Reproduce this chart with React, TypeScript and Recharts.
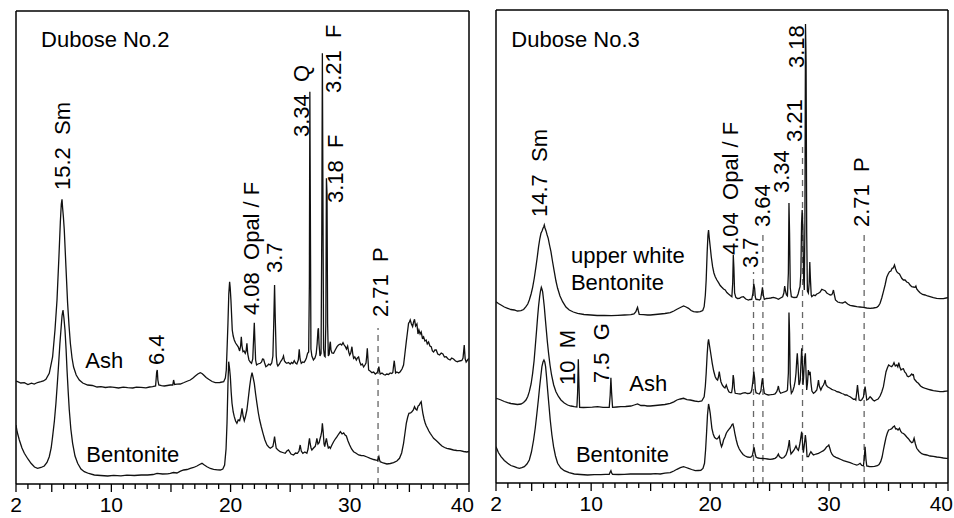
import React from "react";
import { LineChart, Line, XAxis, YAxis, ReferenceLine, ReferenceDot } from "recharts";

type Pt = [number, number];

// 2-theta axis
const X_TICKS = Array.from({ length: 39 }, (_, i) => i + 2);
const X_TICK_LABELS = [2, 10, 20, 30, 40];

// ---- Dubose No.2 (intensity, arbitrary units) ----
const ASH_2: Pt[] = [
  [2.0, 103], [2.14, 102.3], [2.4, 101], [2.7, 101.3], [3.0, 99.5], [3.3, 100.8], [3.53, 100], [3.8, 101.5], [4.09, 102.3], [4.3, 103],
  [4.51, 104.7], [4.79, 110.7], [5.07, 127], [5.27, 154], [5.44, 184], [5.6, 227], [5.72, 262], [5.8, 280], [5.86, 284.7], [5.91, 276],
  [5.97, 268], [6.05, 254], [6.19, 217], [6.33, 180.7], [6.45, 158], [6.56, 140.7], [6.7, 126], [6.83, 117], [7.05, 109], [7.31, 104],
  [7.6, 101], [8.01, 99], [8.4, 98.5], [8.8, 97], [9.13, 97.3], [9.5, 96.5], [9.9, 97.2], [10.25, 96.7], [10.6, 96], [11.0, 96.8],
  [11.37, 96.3], [11.8, 96], [12.1, 96.9], [12.48, 96.7], [12.9, 96.2], [13.2, 97], [13.46, 97.3], [13.71, 98], [13.8, 112], [13.85, 114],
  [13.9, 104], [13.98, 99], [14.2, 98.3], [14.44, 98], [14.7, 98.5], [14.94, 99], [15.15, 99], [15.22, 104], [15.3, 99.5], [15.5, 99.8],
  [15.78, 100], [16.1, 101.5], [16.4, 103], [16.62, 104], [16.85, 106], [17.04, 108], [17.25, 110], [17.46, 111.3], [17.6, 110.5], [17.74, 109],
  [17.95, 106.5], [18.16, 104.7], [18.45, 102.5], [18.72, 101.3], [19.1, 101.5], [19.42, 102.3], [19.56, 106], [19.64, 114], [19.72, 140], [19.78, 160.7],
  [19.85, 190], [19.92, 202.3], [19.97, 196], [20.03, 184], [20.14, 154], [20.22, 148], [20.31, 144], [20.42, 141], [20.53, 139], [20.65, 137],
  [20.76, 133], [20.84, 138], [20.9, 147.3], [20.96, 138], [21.04, 132.3], [21.13, 133], [21.23, 130.7], [21.3, 133], [21.37, 140.7], [21.44, 130],
  [21.54, 124], [21.65, 122], [21.76, 120.7], [21.86, 125], [21.93, 145], [21.99, 161.3], [22.05, 140], [22.1, 124], [22.18, 119], [22.3, 120],
  [22.49, 120.7], [22.6, 122], [22.68, 125], [22.77, 124.7], [22.86, 121], [22.96, 117.3], [23.1, 118.5], [23.2, 120], [23.33, 119], [23.45, 121],
  [23.55, 128], [23.62, 160], [23.69, 199], [23.75, 165], [23.83, 128], [23.9, 120], [23.97, 118], [24.1, 120], [24.2, 122.5], [24.3, 124],
  [24.38, 126], [24.44, 128], [24.52, 123], [24.62, 121.5], [24.72, 120.7], [24.85, 121.5], [25.0, 120], [25.12, 121.5], [25.22, 120.5], [25.34, 123.3],
  [25.45, 121], [25.56, 120], [25.68, 124], [25.76, 134.7], [25.83, 125], [25.93, 120.7], [26.05, 122], [26.16, 121.5], [26.26, 123.3], [26.36, 126],
  [26.46, 130.7], [26.55, 132], [26.61, 200], [26.65, 392.3], [26.69, 280], [26.74, 135], [26.82, 128], [26.95, 124], [27.08, 126], [27.18, 130],
  [27.26, 140], [27.33, 154], [27.37, 155.7], [27.42, 140], [27.5, 128], [27.59, 130.7], [27.65, 250], [27.7, 430.7], [27.75, 280], [27.8, 135],
  [27.87, 128], [27.93, 127.3], [27.99, 160], [28.04, 305.7], [28.09, 290], [28.14, 160], [28.2, 128], [28.28, 130], [28.33, 140], [28.37, 142.3],
  [28.42, 134], [28.5, 131], [28.64, 130.7], [28.78, 134], [28.93, 137.3], [29.05, 139], [29.21, 140], [29.32, 139], [29.43, 141.3], [29.53, 139],
  [29.63, 137.3], [29.72, 135], [29.82, 138], [29.91, 132], [29.99, 129], [30.08, 131], [30.18, 137.3], [30.25, 130], [30.32, 125.7], [30.42, 127],
  [30.55, 124], [30.64, 126], [30.74, 127], [30.84, 122], [30.94, 119], [31.05, 120], [31.16, 117], [31.27, 119], [31.36, 121], [31.42, 128],
  [31.47, 135.7], [31.52, 126], [31.58, 114], [31.7, 113], [31.86, 111.3], [32.0, 112], [32.14, 110], [32.25, 111], [32.33, 112], [32.4, 115],
  [32.44, 117.3], [32.49, 113], [32.55, 110], [32.7, 111], [32.85, 109.5], [32.97, 109], [33.1, 110], [33.25, 109.5], [33.39, 111], [33.52, 110.5],
  [33.61, 111.5], [33.67, 118], [33.73, 123.3], [33.79, 117], [33.84, 111], [33.95, 112], [34.1, 111], [34.23, 112.3], [34.38, 115], [34.51, 119],
  [34.62, 130], [34.74, 142.3], [34.84, 152], [34.93, 160.7], [35.0, 162], [35.07, 164], [35.17, 160], [35.27, 157.3], [35.35, 162], [35.43, 164.7],
  [35.52, 158], [35.63, 160], [35.72, 150], [35.8, 154], [35.9, 150], [35.99, 152], [36.09, 146], [36.19, 147.3], [36.3, 143], [36.41, 144],
  [36.5, 140], [36.61, 142], [36.72, 138], [36.83, 137.3], [36.93, 133], [37.03, 132], [37.14, 134], [37.25, 134], [37.38, 130], [37.53, 129],
  [37.67, 131], [37.81, 130], [37.94, 127], [38.08, 127.3], [38.25, 125], [38.42, 124], [38.55, 126], [38.7, 125], [38.87, 123], [39.03, 122.3],
  [39.2, 123], [39.4, 123.5], [39.5, 126], [39.6, 139], [39.68, 125], [39.76, 122], [39.88, 124], [39.98, 125.7],
];

const BENT_2: Pt[] = [
  [2.0, 59], [2.1, 52], [2.28, 44], [2.5, 36], [2.7, 30.7], [3.0, 25], [3.26, 20.7], [3.55, 17], [3.81, 15.7], [4.1, 16.5],
  [4.37, 18], [4.6, 21.5], [4.79, 27.3], [4.95, 36], [5.07, 47.3], [5.22, 63], [5.35, 80.7], [5.47, 101], [5.58, 120.7], [5.68, 140],
  [5.77, 154], [5.86, 168], [5.94, 174], [6.02, 166], [6.11, 154], [6.2, 135], [6.28, 114], [6.38, 92], [6.47, 74], [6.6, 55],
  [6.75, 40.7], [6.95, 28], [7.17, 20.7], [7.45, 15], [7.73, 12.3], [8.1, 10.5], [8.57, 9], [9.1, 8.5], [9.69, 8], [10.2, 8.6],
  [10.8, 8.2], [11.3, 8.8], [11.92, 8.5], [12.5, 9], [13.04, 9], [13.5, 9.5], [13.83, 10.7], [14.3, 10], [14.72, 10.2], [14.94, 10.7],
  [15.2, 11.5], [15.5, 11], [15.8, 12.8], [16.06, 14], [16.35, 14.5], [16.62, 15.7], [16.9, 16.5], [17.18, 18], [17.4, 19.5], [17.6, 20.7],
  [17.8, 19], [18.02, 17.3], [18.3, 15.5], [18.58, 14.7], [18.9, 14.2], [19.14, 14], [19.35, 15], [19.5, 19], [19.62, 35], [19.7, 60.7],
  [19.78, 100], [19.84, 122.3], [19.91, 116], [19.98, 107.3], [20.05, 92], [20.12, 80.7], [20.22, 72], [20.31, 67.3], [20.42, 63], [20.53, 60.7],
  [20.64, 64], [20.76, 63.3], [20.86, 68], [20.96, 75.7], [21.05, 68], [21.15, 63.3], [21.26, 68], [21.37, 74], [21.48, 85], [21.6, 97.3],
  [21.7, 106], [21.8, 111.3], [21.9, 106], [21.99, 100.7], [22.1, 90], [22.21, 80.7], [22.33, 71], [22.44, 64], [22.58, 57], [22.72, 50.7],
  [22.88, 44], [23.05, 39], [23.2, 37], [23.33, 35.7], [23.48, 37], [23.55, 37.7], [23.62, 42], [23.69, 47.3], [23.75, 42], [23.83, 35.7],
  [23.98, 34], [24.16, 32.3], [24.37, 31.5], [24.58, 30.7], [24.72, 33], [24.86, 34], [25.07, 30], [25.28, 29], [25.45, 31], [25.61, 30.7],
  [25.74, 33], [25.84, 39], [25.93, 33], [26.06, 30.7], [26.23, 32], [26.4, 30.7], [26.5, 35], [26.57, 42], [26.62, 45.7], [26.68, 40],
  [26.75, 36], [26.82, 34], [26.96, 36], [27.1, 37.7], [27.17, 41], [27.24, 45.7], [27.33, 40], [27.43, 41.3], [27.5, 45], [27.57, 48],
  [27.64, 52], [27.7, 60.7], [27.77, 52], [27.84, 40], [27.9, 37.3], [27.97, 42], [28.04, 45.7], [28.12, 40], [28.2, 36], [28.3, 37],
  [28.37, 35.7], [28.5, 39], [28.64, 42.3], [28.78, 45], [28.93, 47.3], [29.07, 50], [29.21, 52.3], [29.35, 50], [29.49, 51], [29.6, 49],
  [29.71, 48], [29.85, 43], [29.99, 39], [30.15, 35], [30.32, 32.3], [30.5, 31], [30.74, 29], [30.95, 28.5], [31.16, 28.3], [31.45, 27],
  [31.72, 25.7], [32.0, 24.5], [32.2, 24], [32.33, 23.3], [32.4, 26], [32.44, 27.3], [32.5, 24], [32.55, 22.3], [32.8, 21], [33.11, 20],
  [33.4, 20.5], [33.67, 21.3], [33.95, 23], [34.17, 25.7], [34.35, 31], [34.51, 40.7], [34.63, 51], [34.74, 60.7], [34.86, 67], [34.96, 70.7],
  [35.1, 71], [35.21, 72.3], [35.33, 74], [35.43, 77.3], [35.53, 75], [35.63, 74], [35.73, 78], [35.83, 79], [35.91, 81], [35.99, 82.3],
  [36.06, 76], [36.13, 70.7], [36.23, 65], [36.33, 60.7], [36.42, 58], [36.52, 55.7], [36.63, 53], [36.75, 50.7], [36.9, 48], [37.03, 45.7],
  [37.2, 44], [37.36, 42.3], [37.55, 40], [37.73, 38], [37.95, 36.5], [38.14, 35.7], [38.4, 35], [38.7, 34], [38.98, 33.5], [39.26, 33.3],
  [39.55, 32.5], [39.82, 32], [40.0, 32.5],
];

// ---- Dubose No.3 ----
const UPPER_3: Pt[] = [
  [2.0, 181.3], [2.2, 179.5], [2.42, 178], [2.7, 176], [2.98, 174.7], [3.25, 173.5], [3.54, 173], [3.8, 172], [4.1, 172.3], [4.32, 173.5],
  [4.52, 176.3], [4.67, 179], [4.8, 183], [4.95, 189], [5.08, 195.7], [5.22, 205], [5.36, 216.3], [5.47, 226], [5.58, 236.3], [5.68, 244],
  [5.78, 249.7], [5.87, 252], [5.95, 254.7], [6.01, 256], [6.06, 258], [6.12, 255], [6.2, 252.3], [6.3, 248], [6.39, 244.7], [6.5, 238],
  [6.62, 231.3], [6.76, 221], [6.9, 211.3], [7.04, 202], [7.18, 194.7], [7.38, 187], [7.6, 181.3], [7.88, 176], [8.16, 173], [8.5, 171],
  [8.86, 169.7], [9.4, 168.5], [9.98, 168], [10.5, 167.5], [11.1, 167.7], [11.7, 167.3], [12.22, 167.7], [12.8, 168], [13.34, 168.3], [13.6, 169],
  [13.76, 171.3], [13.84, 174], [13.9, 175.7], [13.97, 172], [14.04, 168.7], [14.4, 168.3], [14.74, 168], [14.97, 168], [15.4, 168.5], [15.81, 169],
  [16.2, 169.5], [16.65, 170.3], [16.95, 172], [17.21, 173.7], [17.5, 175.5], [17.77, 177], [17.98, 176], [18.19, 174.7], [18.4, 172.5], [18.61, 171.3],
  [18.9, 171], [19.17, 171.3], [19.38, 172.5], [19.5, 176.3], [19.6, 188], [19.67, 203], [19.75, 230], [19.82, 248], [19.87, 253], [19.93, 245],
  [20.01, 236.3], [20.1, 226], [20.21, 216.3], [20.32, 210], [20.43, 206.3], [20.57, 203], [20.71, 200.3], [20.85, 197.5], [20.99, 195.7], [21.13, 194],
  [21.27, 193], [21.41, 190.5], [21.55, 189], [21.7, 187.5], [21.83, 186.3], [21.9, 200], [21.95, 228], [22.0, 215], [22.06, 190], [22.16, 185.7],
  [22.3, 184.5], [22.47, 184.7], [22.63, 186], [22.8, 186.3], [23.0, 184], [23.22, 183], [23.36, 183.5], [23.5, 183.7], [23.6, 190], [23.67, 199],
  [23.74, 195], [23.8, 186], [23.86, 183.7], [24.0, 183.5], [24.14, 183], [24.25, 184], [24.33, 190], [24.4, 195.7], [24.47, 188], [24.56, 183.7],
  [24.73, 184.5], [24.9, 184.7], [25.1, 185], [25.32, 185.7], [25.53, 185], [25.74, 183.7], [25.92, 185], [26.1, 186.3], [26.2, 190], [26.27, 197],
  [26.34, 192], [26.42, 188], [26.5, 187], [26.58, 210], [26.63, 280], [26.68, 250], [26.74, 195], [26.83, 186.3], [27.05, 185.5], [27.28, 185.7],
  [27.4, 189], [27.5, 194], [27.56, 196.3], [27.63, 210], [27.69, 260], [27.74, 273], [27.8, 255], [27.86, 205], [27.92, 193], [27.97, 260],
  [28.02, 459], [28.07, 420], [28.12, 250], [28.18, 192], [28.26, 190], [28.33, 200], [28.38, 221], [28.43, 205], [28.5, 188], [28.55, 186.3],
  [28.7, 188], [28.83, 187.3], [28.97, 189], [29.11, 189.7], [29.25, 191], [29.39, 193.7], [29.53, 193], [29.67, 192.3], [29.81, 190], [29.95, 189],
  [30.1, 188], [30.23, 188.3], [30.3, 190], [30.37, 193], [30.45, 188], [30.54, 183], [30.73, 181], [30.93, 180.3], [31.14, 180], [31.35, 181.3],
  [31.56, 179], [31.77, 177.7], [32.05, 177], [32.33, 176.3], [32.6, 176], [32.89, 175.7], [33.17, 175], [33.45, 174.7], [33.73, 175], [34.01, 175.7],
  [34.15, 177], [34.29, 179.7], [34.43, 185], [34.57, 191.3], [34.71, 198], [34.85, 205.7], [34.97, 209], [35.08, 211.3], [35.2, 212], [35.3, 214.7],
  [35.4, 215], [35.5, 218], [35.6, 214], [35.69, 211.3], [35.8, 210], [35.92, 209], [36.01, 207], [36.11, 204.7], [36.25, 203], [36.39, 203],
  [36.53, 201], [36.67, 200.3], [36.81, 198], [36.95, 196.3], [37.09, 196], [37.23, 195.7], [37.3, 197], [37.37, 194], [37.51, 192], [37.65, 190.3],
  [37.86, 188.5], [38.07, 188], [38.28, 187], [38.49, 186.3], [38.77, 185.3], [39.05, 184.7], [39.33, 184.3], [39.61, 184.3], [39.85, 185], [40.0, 185.3],
];

const ASH_3: Pt[] = [
  [2.0, 84.7], [2.2, 84], [2.42, 83], [2.7, 81.5], [2.98, 80.3], [3.25, 79.5], [3.54, 79], [3.8, 78.5], [4.1, 79], [4.32, 80.5],
  [4.52, 83], [4.67, 86.5], [4.8, 91.3], [4.95, 99], [5.08, 109.7], [5.2, 122], [5.3, 136.3], [5.4, 151], [5.5, 166.3], [5.58, 177],
  [5.67, 186.3], [5.74, 192], [5.81, 195.7], [5.86, 194], [5.92, 191.3], [5.99, 184], [6.06, 176.3], [6.14, 165], [6.23, 153], [6.32, 141],
  [6.42, 129.7], [6.54, 118], [6.67, 108], [6.85, 98], [7.04, 91.3], [7.25, 86.5], [7.46, 83], [7.74, 80], [8.02, 78], [8.3, 77],
  [8.58, 76.3], [8.8, 76], [8.86, 90], [8.92, 123.7], [8.97, 100], [9.03, 75.7], [9.35, 75.5], [9.7, 75.7], [10.1, 75.8], [10.54, 76.3],
  [11.0, 75.6], [11.52, 75.7], [11.6, 88], [11.66, 105.3], [11.72, 90], [11.8, 75.7], [12.15, 76], [12.5, 76.3], [12.9, 76.5], [13.34, 77],
  [13.62, 78], [13.9, 79], [14.18, 77.5], [14.46, 77.7], [14.7, 77], [14.97, 77], [15.4, 77.5], [15.81, 78], [16.2, 78.5], [16.65, 79.7],
  [16.95, 81.2], [17.21, 83], [17.5, 84], [17.77, 84.7], [18.05, 83.3], [18.33, 83], [18.7, 82], [19.03, 81.3], [19.3, 82], [19.5, 86.3],
  [19.6, 97], [19.67, 109.7], [19.75, 128], [19.82, 140], [19.87, 143.7], [19.93, 139], [20.01, 133], [20.1, 126], [20.18, 119.7], [20.3, 112],
  [20.43, 106.3], [20.53, 104], [20.63, 103], [20.7, 106], [20.77, 111.3], [20.84, 106], [20.91, 101.3], [21.02, 98], [21.13, 96.3], [21.25, 95],
  [21.36, 98], [21.47, 94], [21.58, 91.3], [21.7, 90.3], [21.81, 90.3], [21.88, 96], [21.94, 108], [21.99, 104], [22.05, 94], [22.11, 89.7],
  [22.32, 89.3], [22.53, 89], [22.74, 89.8], [22.95, 90.3], [23.13, 89.5], [23.31, 89.7], [23.42, 90.5], [23.5, 93], [23.6, 102], [23.67, 111.3],
  [23.74, 105], [23.8, 94], [23.86, 90.3], [24.0, 89.5], [24.14, 89], [24.27, 92], [24.34, 100], [24.4, 104.7], [24.47, 97], [24.56, 89.7],
  [24.73, 88.5], [24.9, 88], [25.1, 88.3], [25.32, 88.7], [25.46, 89], [25.6, 91.3], [25.68, 94], [25.74, 97], [25.82, 92], [25.93, 89.7],
  [26.1, 90.5], [26.3, 91.3], [26.43, 92], [26.5, 93], [26.58, 110], [26.63, 170.5], [26.68, 150], [26.74, 100], [26.83, 89.7], [26.95, 92],
  [27.06, 96.3], [27.15, 102], [27.22, 109.7], [27.28, 122], [27.33, 129.7], [27.39, 118], [27.47, 98], [27.53, 100], [27.58, 103], [27.64, 120],
  [27.7, 134.7], [27.76, 118], [27.81, 98], [27.86, 105], [27.9, 116], [27.96, 126], [28.01, 129.7], [28.07, 108], [28.12, 93], [28.19, 100],
  [28.26, 113], [28.33, 108], [28.41, 111.3], [28.48, 100], [28.56, 92], [28.69, 89.7], [28.83, 91], [28.97, 93], [29.05, 98], [29.11, 103],
  [29.18, 97], [29.31, 93], [29.42, 96], [29.53, 98], [29.6, 100], [29.67, 103], [29.75, 98], [29.87, 96.3], [29.98, 95.5], [30.09, 94.7],
  [30.23, 93.7], [30.37, 93], [30.51, 92.5], [30.65, 91.3], [30.79, 91], [30.93, 90.3], [31.07, 89.5], [31.21, 89], [31.35, 88], [31.49, 88],
  [31.63, 87], [31.77, 86.3], [31.91, 85], [32.05, 83.7], [32.18, 84], [32.25, 83], [32.32, 90], [32.39, 98], [32.46, 90], [32.53, 83],
  [32.65, 82.5], [32.75, 83.3], [32.89, 86], [32.96, 92], [33.03, 96.3], [33.1, 90], [33.17, 83], [33.31, 84], [33.45, 86.3], [33.56, 85],
  [33.67, 83.3], [33.81, 82], [33.95, 83], [34.12, 84], [34.29, 87], [34.43, 91], [34.57, 96.3], [34.68, 104], [34.79, 111.3], [34.9, 115],
  [35.01, 118], [35.14, 117], [35.27, 116.3], [35.37, 118], [35.46, 120.3], [35.57, 117], [35.69, 118], [35.78, 116], [35.86, 120.3], [35.95, 116],
  [36.05, 113], [36.15, 114], [36.25, 114.3], [36.36, 111], [36.47, 109.7], [36.57, 107], [36.67, 106.3], [36.8, 107], [36.95, 109], [37.02, 108],
  [37.09, 108.3], [37.16, 104], [37.23, 103], [37.37, 101], [37.51, 99.7], [37.69, 97], [37.87, 95.7], [38.11, 94.5], [38.35, 93.7], [38.56, 93],
  [38.77, 92.3], [39.05, 91.8], [39.33, 91.3], [39.61, 91.5], [39.85, 91.8], [40.0, 92],
];

const BENT_3: Pt[] = [
  [2.0, 36.3], [2.2, 30.5], [2.42, 26.3], [2.7, 22.5], [2.98, 19.7], [3.25, 17.5], [3.54, 16.3], [3.75, 15.3], [3.96, 14.7], [4.17, 15.3],
  [4.38, 16.3], [4.6, 19], [4.8, 23], [4.98, 31], [5.16, 43], [5.3, 55], [5.44, 69.7], [5.56, 83], [5.67, 96.3], [5.77, 107],
  [5.86, 116.3], [5.95, 121], [6.03, 123], [6.1, 121], [6.17, 116.3], [6.25, 106], [6.34, 93], [6.45, 78], [6.56, 63], [6.7, 48],
  [6.84, 36.3], [7.0, 27], [7.18, 19.7], [7.45, 15], [7.74, 12.3], [8.15, 10.3], [8.58, 9], [9.1, 8.5], [9.7, 8], [10.26, 8.3],
  [10.82, 8.3], [11.2, 8.6], [11.52, 8.7], [11.6, 11], [11.66, 12.3], [11.72, 10], [11.8, 8.7], [12.3, 8.5], [12.78, 8.7], [13.3, 9],
  [13.9, 9], [14.5, 9.2], [15.02, 9], [15.4, 9.3], [15.81, 9], [16.2, 9.8], [16.65, 10.3], [16.95, 12], [17.21, 13.7], [17.5, 15.3],
  [17.77, 16.3], [17.98, 15.5], [18.19, 14.7], [18.45, 13.5], [18.75, 12.3], [19.0, 12.5], [19.22, 12.7], [19.4, 14.5], [19.53, 19.7], [19.62, 33],
  [19.7, 49.7], [19.78, 68], [19.87, 79], [19.94, 75], [20.01, 69.7], [20.08, 62], [20.15, 54.7], [20.26, 49], [20.37, 45.7], [20.47, 44.5],
  [20.57, 44], [20.67, 45], [20.77, 47], [20.87, 40], [20.96, 36.3], [21.05, 39], [21.13, 43], [21.25, 46], [21.36, 49.7], [21.47, 52],
  [21.58, 53.7], [21.68, 55], [21.78, 57], [21.85, 58.5], [21.92, 59], [22.0, 55], [22.08, 49.7], [22.2, 43], [22.31, 38], [22.45, 34],
  [22.59, 31.3], [22.77, 28.5], [22.95, 27], [23.15, 26], [23.36, 25.7], [23.5, 26.5], [23.56, 28], [23.63, 32], [23.7, 35.7], [23.77, 30],
  [23.86, 26], [24.03, 25], [24.2, 24.7], [24.41, 24.5], [24.62, 24.3], [24.83, 24], [25.04, 23.7], [25.25, 24], [25.46, 24.7], [25.6, 26],
  [25.67, 27.5], [25.74, 29], [25.82, 26.5], [26.02, 24.7], [26.2, 25.5], [26.38, 28], [26.52, 33], [26.6, 38], [26.66, 43], [26.72, 35],
  [26.8, 29], [26.93, 31], [27.06, 33], [27.14, 35], [27.22, 37], [27.32, 34], [27.42, 32.7], [27.49, 36], [27.56, 40], [27.63, 46],
  [27.7, 51.3], [27.77, 40], [27.84, 30.3], [27.92, 38], [28.01, 48], [28.08, 40], [28.15, 26.3], [28.27, 26.3], [28.37, 29], [28.47, 31.3],
  [28.58, 29.5], [28.69, 28], [28.9, 29], [29.11, 29.7], [29.32, 31], [29.53, 32.3], [29.67, 34], [29.81, 36.3], [29.9, 37], [29.98, 38],
  [30.06, 35], [30.15, 31.3], [30.26, 28.5], [30.37, 27], [30.58, 25.7], [30.79, 24.7], [31.0, 23.5], [31.21, 22.3], [31.49, 21.3], [31.77, 20.3],
  [32.05, 19], [32.33, 18], [32.47, 18.5], [32.61, 19.7], [32.75, 17.5], [32.89, 17.3], [32.96, 25], [33.03, 36.3], [33.1, 24], [33.17, 17],
  [33.38, 16.5], [33.59, 16.3], [33.82, 16.6], [34.06, 17.3], [34.2, 18.5], [34.34, 21.3], [34.46, 26], [34.57, 33], [34.68, 39.5], [34.79, 45.7],
  [34.9, 50], [35.01, 53], [35.14, 53.5], [35.27, 54.3], [35.38, 56], [35.5, 57], [35.6, 54], [35.69, 54.3], [35.8, 53], [35.92, 54.7],
  [36.03, 51.5], [36.14, 50], [36.26, 49.5], [36.39, 48], [36.53, 46], [36.67, 44.3], [36.81, 42], [36.95, 40.3], [37.05, 41], [37.15, 44.7],
  [37.26, 39], [37.37, 34.7], [37.58, 31.5], [37.79, 29.3], [38.0, 28.5], [38.21, 28], [38.49, 27], [38.77, 26.7], [39.05, 26], [39.33, 25.7],
  [39.61, 25], [39.85, 24.7], [40.0, 24.7],
];

// peak annotations (data coordinates: 2-theta, intensity)
const NOTES_2 = [
  { x: 4.1, y: 437, text: "Dubose No.2", up: false },
  { x: 5.86, y: 294, text: "15.2  Sm", up: true },
  { x: 13.77, y: 119, text: "6.4", up: true },
  { x: 21.71, y: 169, text: "4.08  Opal / F", up: true },
  { x: 23.67, y: 211, text: "3.7", up: true },
  { x: 25.93, y: 347, text: "3.34  Q", up: true },
  { x: 28.64, y: 391, text: "3.21  F", up: true },
  { x: 28.79, y: 281, text: "3.18  F", up: true },
  { x: 32.56, y: 167, text: "2.71  P", up: true },
  { x: 7.81, y: 116, text: "Ash", up: false },
  { x: 7.9, y: 22, text: "Bentonite", up: false },
];
const GUIDES_2 = [{ x: 32.37, top: 156 }];

const NOTES_3 = [
  { x: 3.29, y: 436, text: "Dubose No.3", up: false },
  { x: 5.64, y: 266, text: "14.7  Sm", up: true },
  { x: 21.69, y: 228, text: "4.04  Opal / F", up: true },
  { x: 23.37, y: 215, text: "3.7", up: true },
  { x: 24.4, y: 256, text: "3.64", up: true },
  { x: 25.95, y: 290, text: "3.34", up: true },
  { x: 27.07, y: 341, text: "3.21", up: true },
  { x: 27.21, y: 415, text: "3.18", up: true },
  { x: 32.67, y: 256, text: "2.71  P", up: true },
  { x: 7.95, y: 98, text: "10  M", up: true },
  { x: 10.82, y: 100, text: "7.5  G", up: true },
  { x: 13.2, y: 92, text: "Ash", up: false },
  { x: 8.3, y: 220, text: "upper white", up: false },
  { x: 8.3, y: 193, text: "Bentonite", up: false },
  { x: 8.72, y: 21, text: "Bentonite", up: false },
];
const GUIDES_3 = [
  { x: 23.65, top: 211 },
  { x: 24.44, top: 249 },
  { x: 27.77, top: 336 },
  { x: 32.95, top: 248 },
];

const FONT = '"Liberation Sans", Arial, Helvetica, sans-serif';
const Y_MAX = 473;

const toPts = (arr: Pt[]) => arr.map(([x, y]) => ({ x, y }));

function XTick(props: any) {
  const { x, y, payload } = props;
  const v = payload.value;
  const long = v === 2 || v % 5 === 0;
  const last = v === 40;
  return (
    <g>
      <line x1={x} x2={x} y1={y} y2={y + (long ? 8 : 5)} stroke="#000" strokeWidth={1.3} />
      {X_TICK_LABELS.includes(v) && (
        <text x={last ? x + 5 : x} y={y + 28} textAnchor={last ? "end" : "middle"} fontSize={21} fontFamily={FONT} fill="#000">
          {v}
        </text>
      )}
    </g>
  );
}

function Note(props: any) {
  const { viewBox, text, up } = props;
  const x = viewBox?.x ?? 0;
  const y = viewBox?.y ?? 0;
  const t = text.replace(/ /g, "\u00a0");
  if (up) {
    return (
      <text x={x} y={y} dy="0.36em" transform={`rotate(-90 ${x} ${y})`} fontSize={22} fontFamily={FONT} fill="#000">
        {t}
      </text>
    );
  }
  return (
    <text x={x} y={y} fontSize={22} fontFamily={FONT} fill="#000">
      {t}
    </text>
  );
}

function Panel({ left, margin, axisH, traces, notes, guides }: any) {
  return (
    <div style={{ position: "absolute", left, top: 0 }}>
      <LineChart width={477} height={518} margin={margin}>
        <XAxis type="number" dataKey="x" domain={[2, 40]} ticks={X_TICKS} interval={0} allowDataOverflow
          height={axisH} tickSize={0} tickMargin={0} tickLine={false}
          axisLine={{ stroke: "#000", strokeWidth: 1.5 }} tick={(p: any) => <XTick {...p} />} />
        <YAxis type="number" domain={[0, Y_MAX]} hide allowDataOverflow />
        <ReferenceLine x={2} stroke="#000" strokeWidth={1.5} />
        <ReferenceLine x={40} stroke="#000" strokeWidth={1.5} />
        <ReferenceLine y={Y_MAX} stroke="#000" strokeWidth={1.5} />
        {guides.map((g: any, i: number) => (
          <ReferenceLine key={"g" + i} segment={[{ x: g.x, y: 0 }, { x: g.x, y: g.top }]}
            stroke="#666" strokeWidth={1.3} strokeDasharray="6 5" />
        ))}
        {traces.map((t: Pt[], i: number) => (
          <Line key={"t" + i} data={toPts(t)} dataKey="y" type="linear" dot={false}
            stroke="#111" strokeWidth={1.3} isAnimationActive={false} />
        ))}
        {notes.map((n: any, i: number) => (
          <ReferenceDot key={"n" + i} x={n.x} y={n.y} r={0} fill="none" stroke="none"
            label={<Note text={n.text} up={n.up} />} />
        ))}
      </LineChart>
    </div>
  );
}

export default function App() {
  return (
    <div style={{ position: "absolute", left: 0, top: 0, width: 954, height: 518, background: "#fff", fontFamily: FONT }}>
      <Panel left={0} margin={{ top: 11, right: 8, bottom: 0, left: 16 }} axisH={34}
        traces={[ASH_2, BENT_2]} notes={NOTES_2} guides={GUIDES_2} />
      <Panel left={477} margin={{ top: 10, right: 6, bottom: 0, left: 19 }} axisH={35}
        traces={[UPPER_3, ASH_3, BENT_3]} notes={NOTES_3} guides={GUIDES_3} />
    </div>
  );
}
